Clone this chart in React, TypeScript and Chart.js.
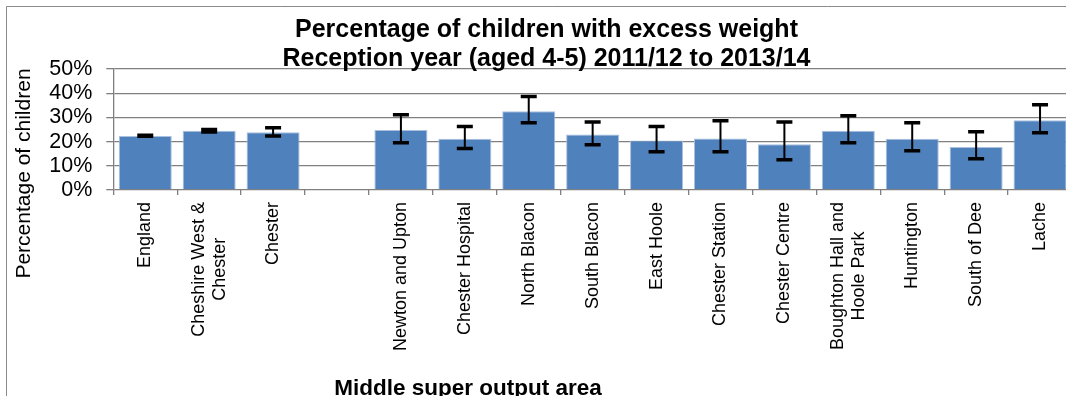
import React, { useEffect, useRef } from 'react';
import { Chart, registerables } from 'chart.js';

Chart.register(...registerables);

const titleLines = ['Percentage of children with excess weight', 'Reception year (aged 4-5) 2011/12 to 2013/14'];
const yAxisTitle = 'Percentage of children';
const xAxisTitle = 'Middle super output area';

const categories: (string | string[])[] = [
  'England',
  ['Cheshire West &', 'Chester'],
  'Chester',
  '',
  'Newton and Upton',
  'Chester Hospital',
  'North Blacon',
  'South Blacon',
  'East Hoole',
  'Chester Station',
  'Chester Centre',
  ['Boughton Hall and', 'Hoole Park'],
  'Huntington',
  'South of Dee',
  'Lache',
];

const values: (number | null)[] = [22.3, 24.5, 23.9, null, 24.8, 21.2, 32.5, 22.9, 20.5, 21.3, 18.9, 24.5, 21.2, 17.8, 28.8];
const lowerCI: (number | null)[] = [22.2, 24.0, 22.3, null, 19.5, 17.1, 27.8, 18.7, 15.8, 15.8, 12.5, 19.5, 16.2, 12.9, 23.7];
const upperCI: (number | null)[] = [22.6, 25.0, 25.7, null, 31.1, 26.2, 38.6, 28.1, 26.2, 28.6, 28.1, 30.7, 27.8, 24.1, 35.2];

const yTicks = [0, 10, 20, 30, 40, 50];

const FONT = '"Liberation Sans", Arial, sans-serif';
const GRID = '#808080';

const customPlugin = {
  id: 'customDecor',
  beforeDraw(chart: any) {
    const ctx = chart.ctx;
    ctx.save();
    ctx.strokeStyle = '#8a8a8a';
    ctx.lineWidth = 1;
    ctx.beginPath();
    ctx.moveTo(6.5, chart.height + 10);
    ctx.lineTo(6.5, 6.5);
    ctx.lineTo(chart.width + 10, 6.5);
    ctx.stroke();
    ctx.restore();
  },
  afterDatasetsDraw(chart: any) {
    const ctx = chart.ctx;
    const xs = chart.scales.x;
    const ys = chart.scales.y;
    ctx.save();
    ctx.strokeStyle = '#000';
    for (let i = 0; i < values.length; i++) {
      const lo = lowerCI[i];
      const hi = upperCI[i];
      if (lo == null || hi == null) continue;
      const x = xs.getPixelForValue(i);
      const yl = ys.getPixelForValue(lo);
      const yh = ys.getPixelForValue(hi);
      ctx.lineWidth = 2;
      ctx.beginPath();
      ctx.moveTo(x, yh);
      ctx.lineTo(x, yl);
      ctx.stroke();
      ctx.lineWidth = 3.5;
      ctx.beginPath();
      ctx.moveTo(x - 8, yh);
      ctx.lineTo(x + 8, yh);
      ctx.moveTo(x - 8, yl);
      ctx.lineTo(x + 8, yl);
      ctx.stroke();
    }
    ctx.restore();
  },
  afterDraw(chart: any) {
    const ctx = chart.ctx;
    const xs = chart.scales.x;
    ctx.save();
    ctx.fillStyle = '#000';

    // Title
    ctx.font = `bold 25px ${FONT}`;
    ctx.textAlign = 'center';
    ctx.textBaseline = 'alphabetic';
    ctx.fillText(titleLines[0], 546.5, 36.5);
    ctx.fillText(titleLines[1], 546.5, 65.5);

    // Y axis title
    ctx.save();
    ctx.translate(24.5, 173.5);
    ctx.rotate(-Math.PI / 2);
    ctx.font = `21px ${FONT}`;
    ctx.textAlign = 'center';
    ctx.textBaseline = 'middle';
    ctx.fillText(yAxisTitle, 0, 0);
    ctx.restore();

    // X tick labels (rotated, block right-aligned, lines centered)
    ctx.font = `18px ${FONT}`;
    const lh = 21;
    for (let i = 0; i < categories.length; i++) {
      const lab = categories[i];
      const lines = Array.isArray(lab) ? lab : [lab];
      if (!lines.join('')) continue;
      const x = xs.getPixelForValue(i);
      const maxW = Math.max(...lines.map((l) => ctx.measureText(l).width));
      ctx.save();
      ctx.translate(x, 202);
      ctx.rotate(-Math.PI / 2);
      ctx.textAlign = 'center';
      ctx.textBaseline = 'middle';
      lines.forEach((l, j) => {
        ctx.fillText(l, -maxW / 2, (j - (lines.length - 1) / 2) * lh);
      });
      ctx.restore();
    }

    // X axis title
    ctx.font = `bold 22.5px ${FONT}`;
    ctx.textAlign = 'center';
    ctx.textBaseline = 'alphabetic';
    ctx.fillText(xAxisTitle, 468, 394.5);
    ctx.restore();
  },
};

export default function App() {
  const ref = useRef<HTMLCanvasElement | null>(null);

  useEffect(() => {
    if (!ref.current) return;
    const chart = new Chart(ref.current, {
      type: 'bar',
      data: {
        labels: categories,
        datasets: [
          {
            data: values,
            backgroundColor: '#4F81BD',
            borderColor: '#A9C0DE',
            borderWidth: 1,
            barPercentage: 0.83,
            categoryPercentage: 1,
          },
        ],
      },
      options: {
        responsive: false,
        animation: false,
        devicePixelRatio: 1,
        layout: { padding: { top: 69, left: 0, right: 28, bottom: 0 } },
        plugins: {
          legend: { display: false },
          title: { display: false },
          tooltip: { enabled: false },
        },
        scales: {
          x: {
            type: 'category',
            offset: true,
            grid: {
              display: true,
              drawOnChartArea: false,
              drawTicks: true,
              tickLength: 5,
              color: GRID,
              lineWidth: 1.3,
              offset: true,
            },
            border: { display: false },
            ticks: { display: false },
            afterFit: (s: any) => {
              s.height = 230;
            },
          },
          y: {
            min: 0,
            max: 50,
            afterBuildTicks: (s: any) => {
              s.ticks = yTicks.map((v) => ({ value: v }));
            },
            ticks: {
              autoSkip: false,
              callback: (v: any) => `${v}%`,
              font: { family: FONT, size: 21.5 },
              color: '#000',
              padding: 14,
            },
            grid: { color: GRID, tickLength: 7, drawTicks: true, lineWidth: 1.3 },
            border: { display: true, color: GRID, width: 1.3 },
            afterFit: (s: any) => {
              s.width = 113.3;
            },
          },
        },
      },
      plugins: [customPlugin],
    });
    return () => chart.destroy();
  }, []);

  return (
    <div
      style={{
        position: 'fixed',
        left: 0,
        top: 0,
        width: 1066,
        height: 396,
        overflow: 'hidden',
        background: '#fff',
      }}
    >
      <canvas ref={ref} width={1100} height={420} style={{ display: 'block' }} />
    </div>
  );
}
